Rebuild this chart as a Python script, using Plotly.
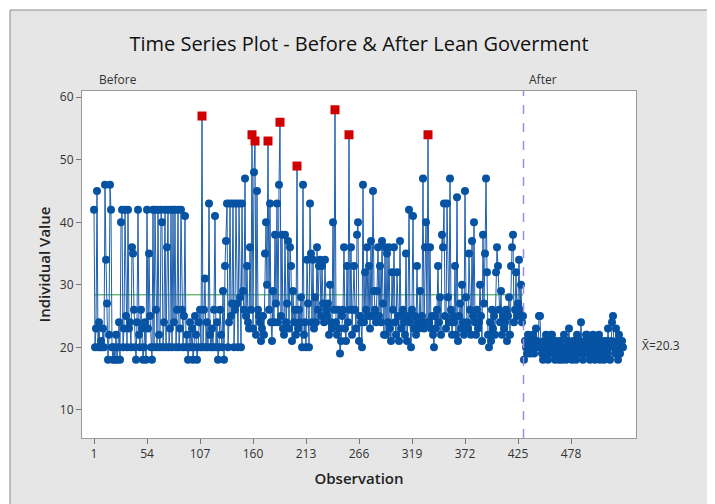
import plotly.graph_objects as go

# ---- data ----
before_values = [
    42, 20, 23, 45, 20, 24, 20, 21, 20, 23,
    20, 46, 34, 27, 18, 22, 46, 42, 20, 18,
    20, 18, 22, 18, 20, 24, 18, 40, 42, 20,
    23, 42, 25, 20, 42, 23, 24, 20, 36, 35,
    26, 20, 18, 24, 42, 22, 20, 26, 23, 18,
    20, 24, 18, 42, 23, 35, 25, 20, 18, 42,
    20, 42, 26, 20, 42, 22, 20, 42, 40, 20,
    24, 42, 20, 36, 42, 20, 23, 42, 20, 42,
    24, 42, 20, 26, 42, 20, 23, 42, 26, 20,
    25, 41, 20, 22, 18, 20, 24, 20, 23, 18,
    20, 25, 22, 18, 20, 24, 26, 20, 57, 20,
    26, 31, 20, 24, 20, 43, 22, 20, 23, 20,
    26, 41, 20, 24, 18, 20, 26, 22, 20, 29,
    18, 33, 37, 43, 20, 24, 43, 25, 27, 43,
    20, 26, 43, 27, 20, 43, 28, 20, 43, 29,
    26, 47, 25, 33, 24, 23, 36, 26, 54, 23,
    48, 53, 22, 45, 26, 25, 24, 21, 23, 25,
    22, 35, 40, 30, 53, 26, 43, 24, 21, 29,
    24, 38, 27, 43, 24, 46, 56, 25, 38, 23,
    22, 38, 24, 27, 37, 23, 36, 33, 21, 29,
    24, 26, 22, 49, 23, 26, 24, 28, 20, 46,
    22, 24, 20, 34, 27, 20, 43, 35, 24, 34,
    23, 28, 24, 36, 26, 33, 34, 25, 33, 27,
    24, 34, 26, 25, 27, 22, 30, 24, 23, 40,
    26, 58, 24, 22, 26, 23, 19, 21, 25, 26,
    36, 23, 21, 33, 24, 54, 26, 36, 22, 26,
    33, 26, 23, 38, 40, 21, 25, 24, 20, 46,
    24, 32, 26, 36, 25, 33, 23, 37, 25, 45,
    29, 26, 24, 29, 36, 25, 33, 24, 37, 27,
    22, 36, 22, 35, 24, 36, 23, 21, 32, 26,
    36, 24, 22, 32, 25, 21, 37, 23, 25, 26,
    24, 22, 35, 21, 25, 42, 24, 20, 26, 41,
    23, 25, 22, 33, 24, 23, 29, 24, 25, 47,
    23, 36, 40, 24, 54, 24, 36, 23, 25, 22,
    20, 25, 23, 26, 33, 24, 28, 22, 38, 36,
    43, 25, 23, 43, 28, 24, 47, 26, 22, 25,
    24, 33, 22, 44, 21, 25, 27, 23, 30, 24,
    22, 45, 28, 24, 23, 35, 26, 22, 37, 25,
    40, 24, 22, 26, 23, 24, 30, 25, 21, 38,
    27, 35, 47, 32, 22, 20, 24, 21, 26, 23,
    25, 22, 32, 36, 33, 26, 24, 29, 22, 25,
    23, 24, 26, 21, 25, 28, 22, 33, 36, 38,
    24, 26, 32, 25, 27, 34, 26, 30, 24, 25,
]

after_values = [
    18, 21, 20, 19, 22, 20, 19, 21, 20, 22,
    19, 20, 23, 21, 20, 25, 25, 20, 19, 18,
    21, 20, 22, 19, 18, 21, 20, 22, 22, 19,
    20, 18, 21, 19, 20, 18, 21, 19, 18, 20,
    22, 19, 18, 20, 21, 23, 19, 20, 18, 21,
    20, 19, 18, 22, 19, 21, 20, 24, 19, 18,
    20, 21, 22, 22, 19, 20, 18, 21, 19, 22,
    20, 18, 21, 19, 20, 22, 18, 20, 21, 19,
    18, 20, 21, 19, 23, 20, 18, 21, 24, 25,
    20, 19, 23, 21, 18, 22, 19, 20, 21, 20,
]

stage_labels = ["Before", "After"]
center_before = 28.4
center_after = 20.3
ucl_before = 48.5
x_ticks = [1, 54, 107, 160, 213, 266, 319, 372, 425, 478]
y_ticks = [10, 20, 30, 40, 50, 60]

obs_before = list(range(1, len(before_values) + 1))
obs_after = list(range(len(before_values) + 1, len(before_values) + len(after_values) + 1))
stage_break = len(before_values) + 0.5

BLUE = "#0652A3"
LINEBLUE = "#1F5FAE"
RED = "#D00000"

out_flag = [v > ucl_before for v in before_values]

fig = go.Figure()

# center lines
fig.add_trace(go.Scatter(x=[obs_before[0], obs_before[-1]], y=[center_before, center_before],
                         mode="lines", line=dict(color="#2E9A3A", width=1), hoverinfo="skip",
                         showlegend=False))
fig.add_trace(go.Scatter(x=[obs_after[0], obs_after[-1]], y=[center_after, center_after],
                         mode="lines", line=dict(color="#2E9A3A", width=1), hoverinfo="skip",
                         showlegend=False))

fig.add_trace(go.Scatter(
    x=obs_before, y=before_values, mode="lines+markers",
    line=dict(color=LINEBLUE, width=1),
    marker=dict(
        size=[9 if f else 8 for f in out_flag],
        symbol=["square" if f else "circle" for f in out_flag],
        color=[RED if f else BLUE for f in out_flag],
        opacity=1,
        line=dict(width=0),
    ),
    showlegend=False,
))
fig.add_trace(go.Scatter(
    x=obs_after, y=after_values, mode="lines+markers",
    line=dict(color=LINEBLUE, width=1),
    marker=dict(size=8, color=BLUE, opacity=1, line=dict(width=0)),
    showlegend=False,
))

# plot area: 554 x 347 px; page body adds an 8px offset
PW, PH = 554, 347
ML, MT = 74, 83

def px_x(px):
    return (px - ML) / PW

def px_y(py):
    return (MT + PH - py) / PH

shapes = [
    dict(type="rect", xref="paper", yref="paper", x0=px_x(-20), x1=px_x(760),
         y0=px_y(2), y1=px_y(-20), fillcolor="white", line=dict(width=0), layer="below"),
    dict(type="rect", xref="paper", yref="paper", x0=px_x(-20), x1=px_x(2),
         y0=px_y(540), y1=px_y(-20), fillcolor="white", line=dict(width=0), layer="below"),
    dict(type="rect", xref="paper", yref="paper", x0=px_x(2), x1=px_x(705),
         y0=px_y(540), y1=px_y(2), fillcolor="rgba(0,0,0,0)",
         line=dict(width=1, color="#8a8a8a"), layer="below"),
    dict(type="line", xref="x", yref="paper", x0=stage_break, x1=stage_break, y0=0, y1=1,
         line=dict(color="#A58BDB", width=1.5, dash="dash")),
]

annotations = [
    dict(x=obs_before[0], y=1.0, xref="x", yref="paper", text=stage_labels[0],
         showarrow=False, xanchor="left", yanchor="bottom", xshift=3, yshift=1,
         font=dict(size=12, color="#333333")),
    dict(x=stage_break, y=1.0, xref="x", yref="paper", text=stage_labels[1],
         showarrow=False, xanchor="left", yanchor="bottom", xshift=3, yshift=1,
         font=dict(size=12, color="#333333")),
    dict(x=1.0, y=center_after, xref="paper", yref="y", text="X\u0304=%.1f" % center_after,
         showarrow=False, xanchor="left", yanchor="middle", xshift=4,
         font=dict(size=12, color="#333333")),
]

fig.update_layout(
    width=715, height=504,
    margin=dict(l=ML, r=715 - ML - PW, t=MT, b=504 - MT - PH, autoexpand=False),
    paper_bgcolor="#E6E6E6",
    plot_bgcolor="white",
    font=dict(family="Open Sans, Noto Sans, sans-serif", color="#222222"),
    title=dict(text="Time Series Plot - Before & After Lean Goverment",
               x=0.5, xref="paper", xanchor="center", y=0.928, yanchor="middle",
               font=dict(size=20, color="#111111")),
    shapes=shapes,
    annotations=annotations,
    showlegend=False,
)

fig.update_xaxes(range=[-11, 543], tickvals=x_ticks, ticks="outside", ticklen=5,
                 tickcolor="#777777", showgrid=False, zeroline=False, automargin=False,
                 showline=True, linecolor="#9a9a9a", mirror=True,
                 tickfont=dict(size=12, color="#333333"),
                 title=dict(text="Observation", standoff=12,
                            font=dict(size=15, color="#222222", weight=600)))
fig.update_yaxes(range=[5.5, 61], tickvals=y_ticks, ticks="outside", ticklen=5,
                 tickcolor="#777777", showgrid=False, zeroline=False, automargin=False,
                 showline=True, linecolor="#9a9a9a", mirror=True,
                 tickfont=dict(size=12, color="#333333"),
                 title=dict(text="Individual Value", standoff=5,
                            font=dict(size=15, color="#222222", weight=600)))

fig.write_html("out.html")
